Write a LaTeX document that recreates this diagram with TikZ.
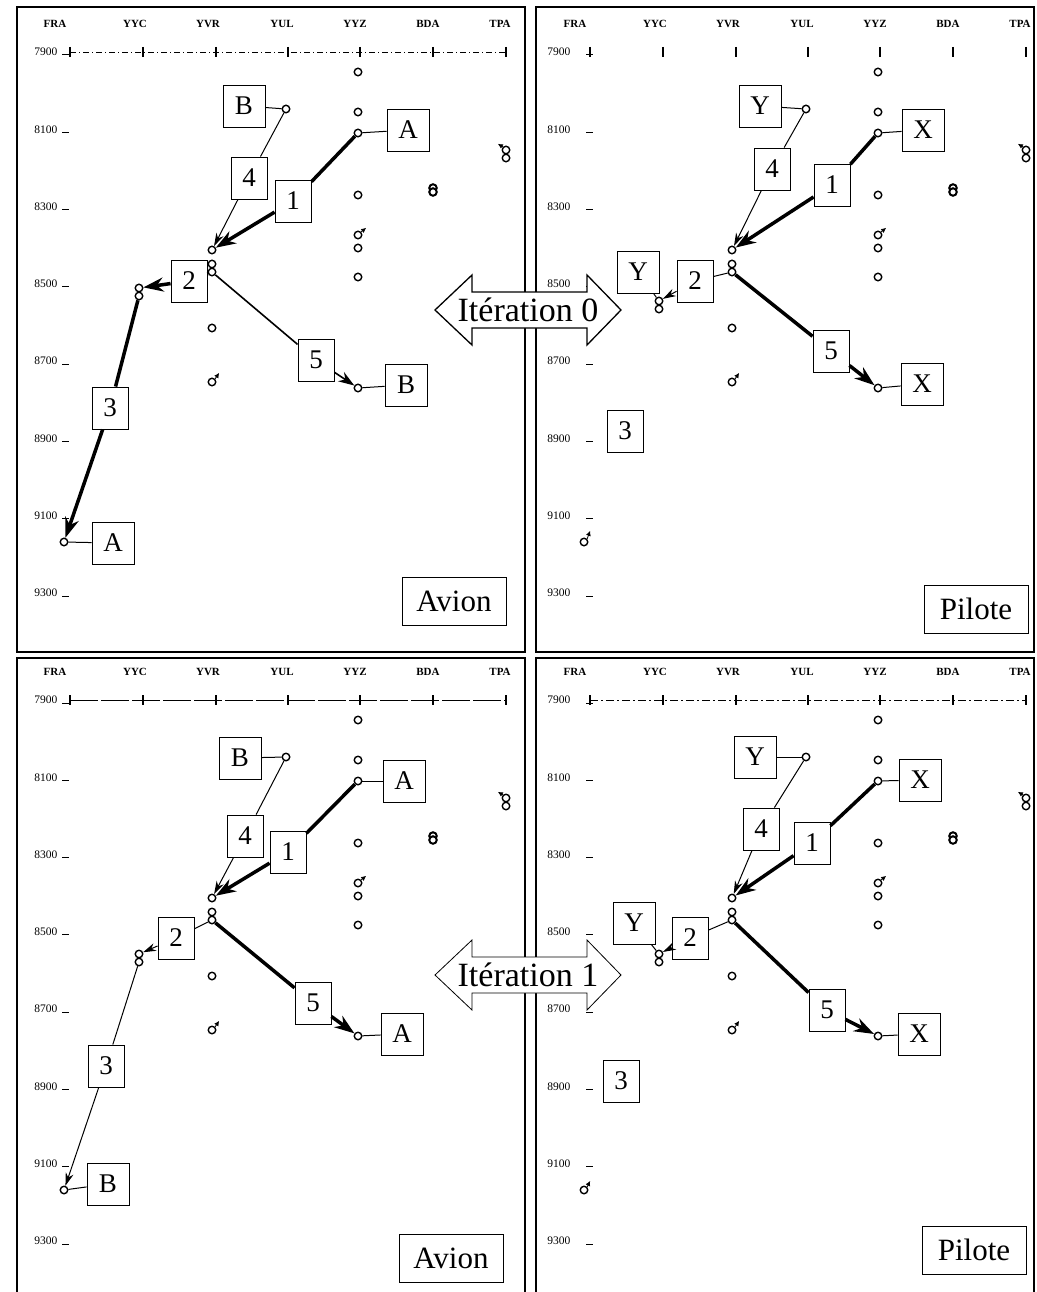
\documentclass[tikz,border=0pt]{standalone}
\usepackage{fontspec}
\setmainfont{Liberation Serif}
\usetikzlibrary{arrows.meta,positioning}

\begin{document}
\begin{tikzpicture}[x=1pt,y=-1pt,
  escale/.style={circle,draw,fill=white,line width=1.4pt,inner sep=0pt,minimum size=7.5pt},
  etiq/.style={draw,fill=white,line width=0.9pt,inner sep=0pt,minimum width=42pt,minimum height=42pt,font=\fontsize{27}{27}\selectfont},
  num/.style={etiq,minimum width=36pt},
  cadre/.style={draw,line width=1pt,inner sep=0pt,minimum width=104pt,minimum height=48pt,font=\fontsize{31}{31}\selectfont},
  lien/.style={line width=1pt},
  fin/.style={line width=1pt,-{Stealth[length=13pt,width=8pt]}},
  gros/.style={line width=3.5pt,-{Stealth[length=20pt,width=14pt]}},
  mini/.style={line width=0.8pt,-{Latex[length=5pt,width=5pt]}},
  colonne/.style={font=\fontsize{11}{11}\selectfont\bfseries},
  ligne/.style={anchor=east,font=\fontsize{11.5}{11.5}\selectfont},
  itertexte/.style={font=\fontsize{34}{34}\selectfont,inner sep=0pt}]
  \useasboundingbox (0,0) rectangle (1036,1292);

  % cadres des quatre panneaux
  \draw[line width=1.5pt] (17,7) rectangle (525,652);
  \draw[line width=1.5pt] (536,7) rectangle (1034,652);
  \draw[line width=1.5pt] (17,1292) |- (525,658) -- (525,1292);
  \draw[line width=1.5pt] (536,1292) |- (1034,658) -- (1034,1292);

  % lignes d'axe
  \draw[line width=0.8pt,dash pattern=on 6pt off 3pt on 1pt off 3pt] (70,52) -- (506,52);
  \draw[line width=0.8pt,dash pattern=on 28pt off 3pt] (70,700) -- (506,700);
  \draw[line width=0.8pt,dash pattern=on 8pt off 3pt on 2pt off 3pt] (590,700) -- (1026,700);

  % grille commune : aeroports, horaires, escales
  \foreach \p/\ox/\oy/\cy/\lx/\dx in {tl/0/0/292/61/1,tr/520/0/305/54/12,bl/0/648/310/61/1,br/520/648/310/54/12}{
    \begin{scope}[shift={(\ox,\oy)}]
      \foreach \c/\n in {55/FRA,135/YYC,208/YVR,282/YUL,355/YYZ,428/BDA,500/TPA}{
        \node[colonne] (\p-h\n) at (\c,24) {\n};
      }
      \foreach \c in {70,143,216,288,360,433,506}{
        \draw[line width=1.2pt] (\c,47) -- (\c,57);
      }
      \foreach \v in {7900,8100,...,9300}{
        \node[ligne] (\p-r\v) at (\lx,{52+(\v-7900)*0.3865}) {\v};
        \draw[line width=1pt] ([xshift=\dx pt,yshift=-3pt]\p-r\v.east) -- ++(7,0);
      }
      \node[escale] (\p-yyz1) at (358,72) {};
      \node[escale] (\p-yyz2) at (358,112) {};
      \node[escale] (\p-yyz3) at (358,133) {};
      \node[escale] (\p-yyz4) at (358,195) {};
      \node[escale] (\p-yyz5) at (358,235) {};
      \node[escale] (\p-yyz6) at (358,248) {};
      \node[escale] (\p-yyz7) at (358,277) {};
      \node[escale] (\p-yyz8) at (358,388) {};
      \node[escale] (\p-yul) at (286,109) {};
      \node[escale] (\p-yvr1) at (212,250) {};
      \node[escale] (\p-yvr2) at (212,264) {};
      \node[escale] (\p-yvr3) at (212,272) {};
      \node[escale] (\p-yvr4) at (212,328) {};
      \node[escale] (\p-yvr5) at (212,382) {};
      \node[escale] (\p-yyc1) at (139,{\cy-4}) {};
      \node[escale] (\p-yyc2) at (139,{\cy+4}) {};
      \node[escale] (\p-tpa1) at (506,150) {};
      \node[escale] (\p-tpa2) at (506,158) {};
      \node[escale,line width=2pt] (\p-bda1) at (433,188) {};
      \node[escale,line width=2pt] (\p-bda2) at (433,192) {};
      \node[escale] (\p-fra) at (64,542) {};
      \draw[mini] (\p-yyz5.north east) -- ++(5,-4);
      \draw[mini] (\p-yvr5.north east) -- ++(4,-6);
      \draw[mini] (\p-tpa1.north west) -- ++(-5,-3);
    \end{scope}
  }
  \draw[mini] (tr-fra.north east) -- ++(3,-8);
  \draw[mini] (br-fra.north east) -- ++(3,-6);

  % Avion, iteration 0
  \node[etiq] (tl-la1) at (244,106) {B};
  \node[etiq] (tl-la2) at (408,130) {A};
  \node[num] (tl-n4) at (249,178) {4};
  \node[num] (tl-n1) at (293,201) {1};
  \node[num] (tl-n2) at (189,281) {2};
  \node[num] (tl-n5) at (316,360) {5};
  \node[etiq] (tl-la3) at (406,385) {B};
  \node[num] (tl-n3) at (110,408) {3};
  \node[etiq] (tl-la4) at (113,543) {A};
  \node[cadre] (tl-tag) at (454,601) {Avion};
  \draw[lien] (tl-yul) -- (tl-la1);
  \draw[lien] (tl-yyz3) -- (tl-la2);
  \draw[lien] (tl-yyz8) -- (tl-la3);
  \draw[lien] (tl-fra) -- (tl-la4);
  \draw[gros] (tl-yyz3) -- (tl-n1) -- (tl-yvr1);
  \draw[fin] (tl-yul) -- (tl-n4) -- (tl-yvr1);
  \draw[gros] (tl-yvr3) -- (tl-n2) -- (tl-yyc1);
  \draw[gros] (tl-yyc2) -- (tl-n3) -- (tl-fra);
  \draw[fin,line width=1.6pt,-{Stealth[length=16pt,width=11pt]}] (tl-yvr3) -- (tl-n5) -- (tl-yyz8);

  % Pilote, iteration 0
  \begin{scope}[shift={(520,0)}]
    \node[etiq] (tr-la1) at (240,106) {Y};
    \node[etiq] (tr-la2) at (403,130) {X};
    \node[num] (tr-n4) at (252,169) {4};
    \node[num] (tr-n1) at (312,185) {1};
    \node[etiq] (tr-la4) at (118,272) {Y};
    \node[num] (tr-n2) at (175,281) {2};
    \node[num] (tr-n5) at (311,351) {5};
    \node[etiq] (tr-la3) at (402,384) {X};
    \node[num] (tr-n3) at (105,431) {3};
    \node[cadre] (tr-tag) at (456,609) {Pilote};
  \end{scope}
  \draw[lien] (tr-yul) -- (tr-la1);
  \draw[lien] (tr-yyz3) -- (tr-la2);
  \draw[lien] (tr-yyz8) -- (tr-la3);
  \draw[lien] (tr-la4) -- (tr-yyc1);
  \draw[gros] (tr-yyz3) -- (tr-n1) -- (tr-yvr1);
  \draw[fin] (tr-yul) -- (tr-n4) -- (tr-yvr1);
  \draw[fin] (tr-yvr3) -- (tr-n2) -- (tr-yyc1);
  \draw[gros] (tr-yvr3) -- (tr-n5) -- (tr-yyz8);

  % Avion, iteration 1
  \begin{scope}[shift={(0,648)}]
    \node[etiq] (bl-la1) at (240,110) {B};
    \node[etiq] (bl-la2) at (404,133) {A};
    \node[num] (bl-n4) at (245,188) {4};
    \node[num] (bl-n1) at (288,204) {1};
    \node[num] (bl-n2) at (176,290) {2};
    \node[num] (bl-n5) at (313,355) {5};
    \node[etiq] (bl-la3) at (402,386) {A};
    \node[num] (bl-n3) at (106,418) {3};
    \node[etiq] (bl-la4) at (108,536) {B};
    \node[cadre] (bl-tag) at (451,610) {Avion};
  \end{scope}
  \draw[lien] (bl-yul) -- (bl-la1);
  \draw[lien] (bl-yyz3) -- (bl-la2);
  \draw[lien] (bl-yyz8) -- (bl-la3);
  \draw[lien] (bl-fra) -- (bl-la4);
  \draw[gros] (bl-yyz3) -- (bl-n1) -- (bl-yvr1);
  \draw[fin] (bl-yul) -- (bl-n4) -- (bl-yvr1);
  \draw[fin] (bl-yvr3) -- (bl-n2) -- (bl-yyc1);
  \draw[fin] (bl-yyc2) -- (bl-n3) -- (bl-fra);
  \draw[gros] (bl-yvr3) -- (bl-n5) -- (bl-yyz8);

  % Pilote, iteration 1
  \begin{scope}[shift={(520,648)}]
    \node[etiq] (br-la1) at (235,109) {Y};
    \node[etiq] (br-la2) at (400,132) {X};
    \node[num] (br-n4) at (241,181) {4};
    \node[num] (br-n1) at (292,195) {1};
    \node[etiq] (br-la4) at (114,275) {Y};
    \node[num] (br-n2) at (170,290) {2};
    \node[num] (br-n5) at (307,362) {5};
    \node[etiq] (br-la3) at (399,386) {X};
    \node[num] (br-n3) at (101,433) {3};
    \node[cadre] (br-tag) at (454,602) {Pilote};
  \end{scope}
  \draw[lien] (br-yul) -- (br-la1);
  \draw[lien] (br-yyz3) -- (br-la2);
  \draw[lien] (br-yyz8) -- (br-la3);
  \draw[lien] (br-la4) -- (br-yyc1);
  \draw[gros] (br-yyz3) -- (br-n1) -- (br-yvr1);
  \draw[fin] (br-yul) -- (br-n4) -- (br-yvr1);
  \draw[fin] (br-yvr3) -- (br-n2) -- (br-yyc1);
  \draw[gros] (br-yvr3) -- (br-n5) -- (br-yyz8);

  % fleches doubles des iterations
  \foreach \i/\y/\lw in {0/310/1.3,1/975/0.8}{
    \coordinate (c\i) at (528,\y);
    \draw[fill=white,line width=\lw pt] (c\i) ++(-93,0) -- ++(37,-35) -- ++(0,17) -- ++(115,0) -- ++(0,-17)
      -- ++(34,35) -- ++(-34,35) -- ++(0,-17) -- ++(-115,0) -- ++(0,17) -- cycle;
    \node[itertexte] (it\i) at (c\i) {Itération \i};
  }
\end{tikzpicture}
\end{document}
